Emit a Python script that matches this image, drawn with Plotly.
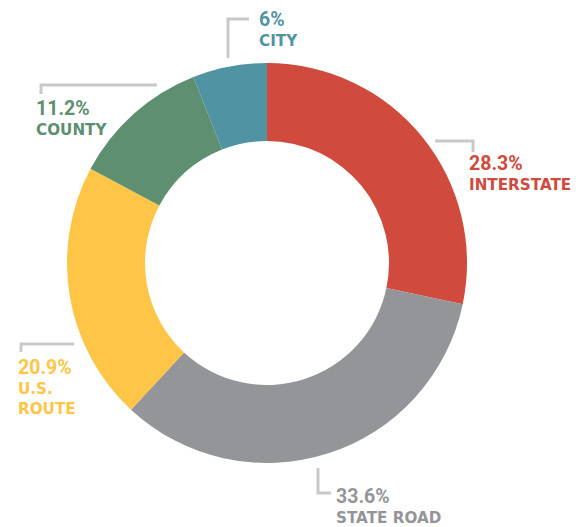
import plotly.graph_objects as go

# Share of total by road type (percent)
categories = ["INTERSTATE", "STATE ROAD", "U.S. ROUTE", "COUNTY", "CITY"]
shares = [28.3, 33.6, 20.9, 11.2, 6]
caption_lines = [["INTERSTATE"], ["STATE ROAD"], ["U.S.", "ROUTE"], ["COUNTY"], ["CITY"]]
colors = ["#D04A3E", "#949598", "#FFC546", "#5E8F71", "#5094A4"]

W, H = 579, 527
# pie plot area in pixels
L, T, SIZE = 67, 63, 400


def px(x):
    return (x - L) / SIZE


def py(y):
    return (T + SIZE - y) / SIZE


fig = go.Figure(
    go.Pie(
        labels=categories,
        values=shares,
        hole=0.61,
        sort=False,
        direction="clockwise",
        rotation=0,
        marker=dict(colors=colors, line=dict(width=0)),
        textinfo="none",
        hoverinfo="label+percent",
        showlegend=False,
    )
)

# label placement: leader-line path, text left edge, text block centre y
placements = {
    "CITY": dict(path=[(249, 19), (228, 19), (228, 58)], x=258, y=29),
    "COUNTY": dict(path=[(157, 85), (41, 85), (41, 94)], x=35, y=117.5),
    "INTERSTATE": dict(path=[(435, 141), (473, 141), (473, 152)], x=468, y=173),
    "U.S. ROUTE": dict(path=[(74, 344), (21, 344), (21, 352)], x=17, y=386.5),
    "STATE ROAD": dict(path=[(318, 468), (318, 493), (331, 493)], x=335, y=505.5),
}

shapes = []
annotations = []
for cat, val, lines, col in zip(categories, shares, caption_lines, colors):
    p = placements[cat]
    d = "M " + " L ".join(f"{px(a):.5f},{py(b):.5f}" for a, b in p["path"])
    shapes.append(dict(type="path", xref="paper", yref="paper", path=d,
                       line=dict(color="#C9C9C9", width=3)))
    pct = (f"<span style='font-family:Roboto;font-size:19.5px'>"
           f"<b>{val:g}%</b></span>")
    annotations.append(dict(
        xref="paper", yref="paper", x=px(p["x"]), y=py(p["y"]),
        xanchor="left", yanchor="middle", align="left", showarrow=False,
        borderpad=0,
        text="<br>".join([pct] + [f"<b>{s}</b>" for s in lines]),
        font=dict(family="DejaVu Sans", size=15.2, color=col),
    ))

fig.update_layout(
    width=W,
    height=H,
    margin=dict(l=L, r=W - L - SIZE, t=T, b=H - T - SIZE),
    paper_bgcolor="white",
    plot_bgcolor="white",
    shapes=shapes,
    annotations=annotations,
)

fig.write_html("out.html")
